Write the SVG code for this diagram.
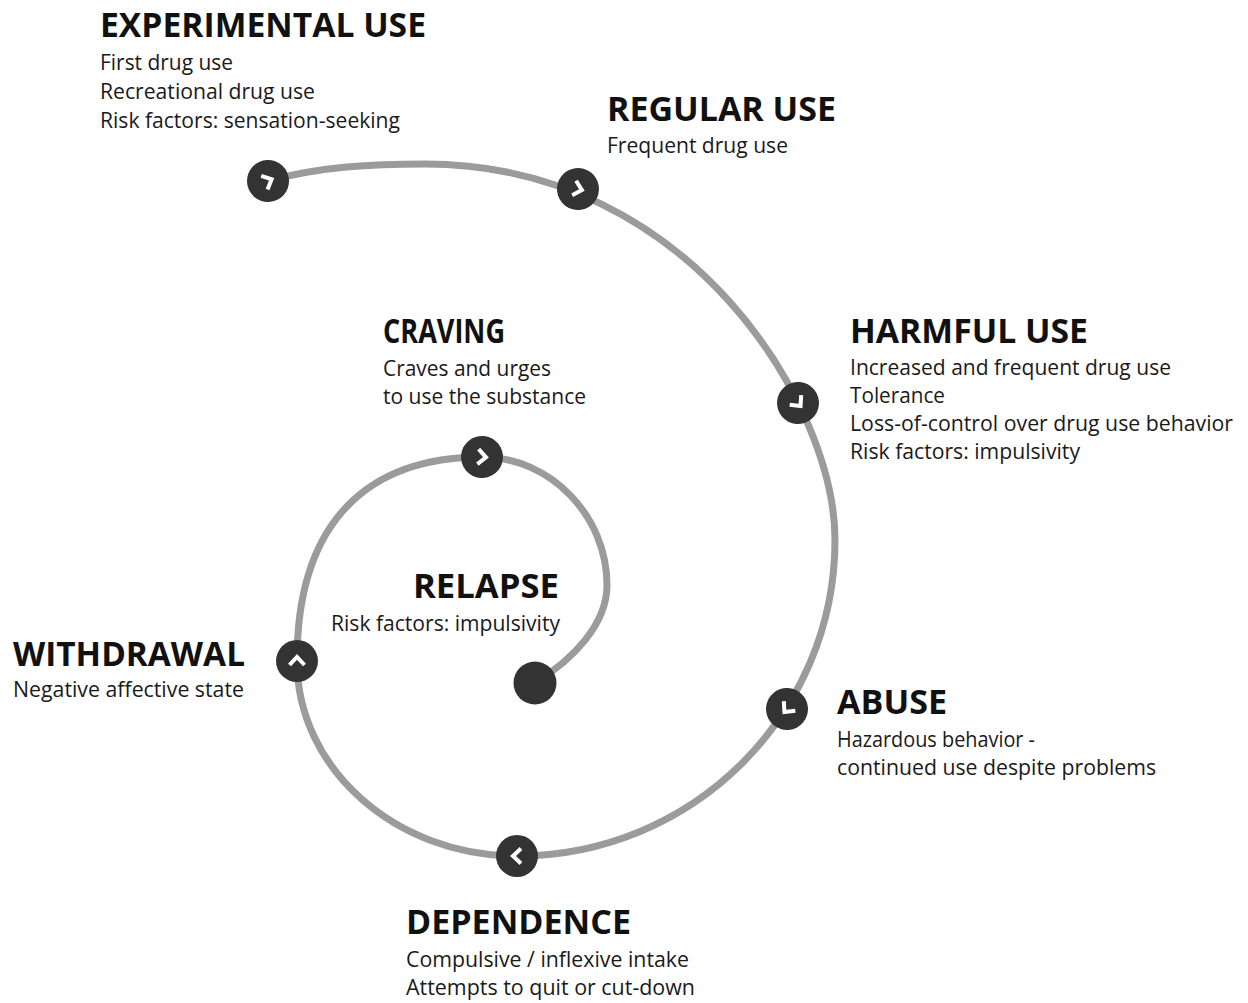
<svg xmlns="http://www.w3.org/2000/svg" width="1248" height="1003" viewBox="0 0 1248 1003">
  <style>
    .h { font-family: "Open Sans", "Liberation Sans", sans-serif; font-weight: 700; font-size: 34px; fill: #111; }
    .b { font-family: "Open Sans", "Liberation Sans", sans-serif; font-weight: 400; font-size: 22px; fill: #1a1a1a; }
    .track { fill: none; stroke: #9b9b9b; stroke-width: 7; stroke-linecap: round; }
    .dot { fill: #333; }
    .chev { fill: none; stroke: #fff; stroke-width: 4; stroke-linejoin: miter; stroke-linecap: butt; }
  </style>
  <defs>
    <g id="stage-marker">
      <circle class="dot" r="21"/>
      <polyline class="chev" points="-4,-7.5 4,0 -4,7.5"/>
    </g>
  </defs>
  <rect width="1248" height="1003" fill="#fff"/>

  <!-- spiral track -->
  <g id="connectors">
    <path class="track" d="M268,181 C320,166.5 373,164 425,164 C691.5,164 835,407 835,540 C835,714.5 692.6,856 517,856 C395.5,856 297,768.7 297,661 C297,518.2 371,457 482,457 C551,457 607,516.5 607,585 C607,625 572,660 535,683"/>
  </g>

  <g id="experimental-use">
    <use href="#stage-marker" transform="translate(268,181) rotate(-25)"/>
    <text class="h" x="100" y="37" textLength="326" lengthAdjust="spacingAndGlyphs">EXPERIMENTAL USE</text>
    <text class="b" x="100" y="70" textLength="133" lengthAdjust="spacingAndGlyphs">First drug use</text>
    <text class="b" x="100" y="99" textLength="215" lengthAdjust="spacingAndGlyphs">Recreational drug use</text>
    <text class="b" x="100" y="128" textLength="300" lengthAdjust="spacingAndGlyphs">Risk factors: sensation-seeking</text>
  </g>

  <g id="regular-use">
    <use href="#stage-marker" transform="translate(578,189) rotate(15)"/>
    <text class="h" x="607" y="121" textLength="229" lengthAdjust="spacingAndGlyphs">REGULAR USE</text>
    <text class="b" x="607" y="153" textLength="181" lengthAdjust="spacingAndGlyphs">Frequent drug use</text>
  </g>

  <g id="harmful-use">
    <use href="#stage-marker" transform="translate(798,403) rotate(50)"/>
    <text class="h" x="850" y="343" textLength="238" lengthAdjust="spacingAndGlyphs">HARMFUL USE</text>
    <text class="b" x="850" y="375" textLength="321" lengthAdjust="spacingAndGlyphs">Increased and frequent drug use</text>
    <text class="b" x="850" y="403" textLength="95" lengthAdjust="spacingAndGlyphs">Tolerance</text>
    <text class="b" x="850" y="431" textLength="383" lengthAdjust="spacingAndGlyphs">Loss-of-control over drug use behavior</text>
    <text class="b" x="850" y="459" textLength="230" lengthAdjust="spacingAndGlyphs">Risk factors: impulsivity</text>
  </g>

  <g id="abuse">
    <use href="#stage-marker" transform="translate(787,709) rotate(130)"/>
    <text class="h" x="837" y="714" textLength="110" lengthAdjust="spacingAndGlyphs">ABUSE</text>
    <text class="b" x="837" y="747" textLength="198" lengthAdjust="spacingAndGlyphs">Hazardous behavior -</text>
    <text class="b" x="837" y="775" textLength="319" lengthAdjust="spacingAndGlyphs">continued use despite problems</text>
  </g>

  <g id="dependence">
    <use href="#stage-marker" transform="translate(517,856) rotate(180)"/>
    <text class="h" x="406" y="934" textLength="225" lengthAdjust="spacingAndGlyphs">DEPENDENCE</text>
    <text class="b" x="406" y="967" textLength="283" lengthAdjust="spacingAndGlyphs">Compulsive / inflexive intake</text>
    <text class="b" x="406" y="995" textLength="289" lengthAdjust="spacingAndGlyphs">Attempts to quit or cut-down</text>
  </g>

  <g id="withdrawal">
    <use href="#stage-marker" transform="translate(297,661) rotate(-90)"/>
    <text class="h" x="13" y="666" textLength="232" lengthAdjust="spacingAndGlyphs">WITHDRAWAL</text>
    <text class="b" x="13" y="697" textLength="231" lengthAdjust="spacingAndGlyphs">Negative affective state</text>
  </g>

  <g id="craving">
    <use href="#stage-marker" transform="translate(482,457) rotate(5)"/>
    <text class="h" x="383" y="343" textLength="122" lengthAdjust="spacingAndGlyphs">CRAVING</text>
    <text class="b" x="383" y="376" textLength="168" lengthAdjust="spacingAndGlyphs">Craves and urges</text>
    <text class="b" x="383" y="404" textLength="203" lengthAdjust="spacingAndGlyphs">to use the substance</text>
  </g>

  <g id="relapse">
    <circle class="dot" cx="535" cy="683" r="21.5"/>
    <text class="h" x="413" y="598" textLength="146" lengthAdjust="spacingAndGlyphs">RELAPSE</text>
    <text class="b" x="331" y="631" textLength="229" lengthAdjust="spacingAndGlyphs">Risk factors: impulsivity</text>
  </g>
</svg>
